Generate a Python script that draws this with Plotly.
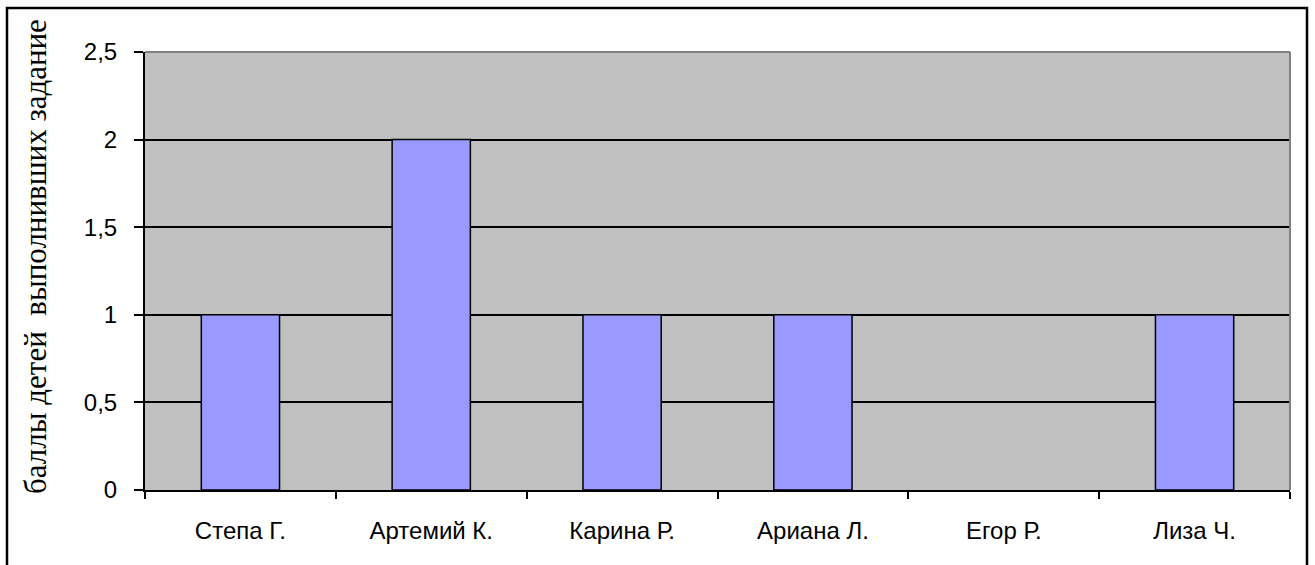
import plotly.graph_objects as go

categories = ["Степа Г.", "Артемий К.", "Карина Р.", "Ариана Л.", "Егор Р.", "Лиза Ч."]
values = [1, 2, 1, 1, 0, 1]
y_ticks = [0, 0.5, 1, 1.5, 2, 2.5]
y_title = "баллы детей  выполнивших задание"

W, H = 1315, 565
L, R, T, B = 145, 25, 52, 75
pw, ph = W - L - R, H - T - B

def px(x):
    return (x - L) / pw

def py(y):
    return (H - B - y) / ph

fig = go.Figure(go.Bar(
    x=categories, y=values,
    marker=dict(color="#9999FF",
                line=dict(color="black", width=[1.5 if v > 0 else 0 for v in values])),
    width=0.41,
))

fig.update_layout(
    width=W, height=H,
    margin=dict(l=L, r=R, t=T, b=B),
    paper_bgcolor="white",
    plot_bgcolor="#C0C0C0",
    separators=", ",
    showlegend=False,
    font=dict(family="Liberation Sans, Arial", size=24, color="black"),
    xaxis=dict(
        type="category",
        showgrid=False,
        showline=True, linecolor="black", linewidth=2,
        ticks="outside", ticklen=7, tickcolor="black", tickwidth=1.5,
        tickson="boundaries",
        ticklabelstandoff=18,
        tickfont=dict(size=24),
    ),
    yaxis=dict(
        range=[0, 2.5],
        tickvals=y_ticks,
        showgrid=True, gridcolor="black", gridwidth=1.5,
        zeroline=False,
        showline=True, linecolor="black", linewidth=2,
        ticks="outside", ticklen=9, tickcolor="black", tickwidth=1.5,
        ticklabelstandoff=12,
        tickfont=dict(size=24),
    ),
    shapes=[
        dict(type="line", xref="paper", yref="paper", x0=0, x1=1, y0=1, y1=1,
             line=dict(color="#808080", width=2)),
        dict(type="line", xref="paper", yref="paper", x0=1, x1=1, y0=0, y1=1,
             line=dict(color="#808080", width=2)),
        dict(type="rect", xref="paper", yref="paper",
             x0=px(7), x1=px(1307), y0=py(8), y1=py(600),
             line=dict(color="black", width=2.5), fillcolor="rgba(0,0,0,0)"),
    ],
    annotations=[
        dict(text=y_title, xref="paper", yref="paper", x=px(35), y=py(257),
             textangle=-90, showarrow=False,
             font=dict(family="Liberation Serif, Times New Roman", size=31, color="black"),
             xanchor="center", yanchor="middle"),
    ],
)

fig.write_html("out.html", config={"displayModeBar": False},
               post_script="document.body.style.margin='0';")
